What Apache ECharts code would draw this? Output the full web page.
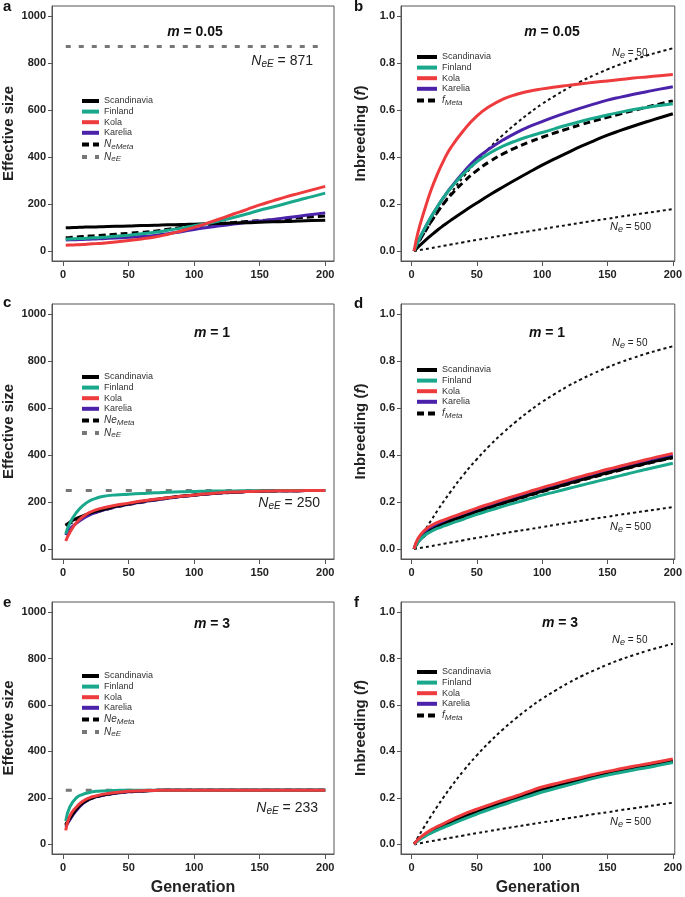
<!DOCTYPE html>
<html><head><meta charset="utf-8">
<script src="https://cdn.jsdelivr.net/npm/echarts@6/dist/echarts.min.js"></script>
<style>html,body{margin:0;padding:0;background:#fff}#c{width:685px;height:897px}</style>
</head><body><div id="c"></div>
<script>
// ---------- DATA ----------
const GEN = [2,5,10,15,20,25,30,40,50,60,70,80,90,100,110,120,130,140,150,160,170,180,190,200];
const X_TICKS = [0,50,100,150,200];
const Y_TICKS_SIZE = [0,200,400,600,800,1000];
const Y_TICKS_F = [0,0.2,0.4,0.6,0.8,1.0];
const PANEL_LETTERS = ['a','b','c','d','e','f'];
const M_VALUES = ['0.05','0.05','1','1','3','3'];
const NEE_VALUES = [871, 250, 233];   // panels a, c, e

// panel a (m = 0.05, effective size)
const SCAN_A = [100,100,101,102,103,103,104,106,107,109,110,112,113,115,117,118,120,121,123,125,126,128,130,132];
const FIN_A  = [51,52,53,54,56,57,59,63,68,74,80,89,98,108,118,130,143,158,174,188,203,218,232,247];
const KOLA_A = [25,26,27,28,30,32,34,39,45,52,60,72,86,101,119,138,158,177,197,214,231,246,261,276];
const KAR_A  = [47,48,49,50,51,52,53,56,59,62,67,74,83,92,101,108,115,122,128,135,142,149,156,163];
const META_A = [57,58,60,62,64,66,68,72,76,80,85,93,101,108,113,118,122,126,130,134,138,142,146,150];
// panel b (m = 0.05, inbreeding)
const SCAN_B = [0,0.017,0.043,0.067,0.09,0.111,0.131,0.169,0.205,0.24,0.273,0.305,0.336,0.366,0.394,0.421,0.447,0.471,0.494,0.514,0.533,0.551,0.568,0.585];
const FIN_B  = [0,0.04,0.095,0.145,0.19,0.232,0.268,0.33,0.38,0.418,0.447,0.47,0.489,0.505,0.522,0.538,0.553,0.567,0.58,0.592,0.603,0.612,0.62,0.628];
const KOLA_B = [0,0.08,0.175,0.26,0.33,0.39,0.44,0.515,0.575,0.617,0.647,0.667,0.681,0.691,0.699,0.706,0.713,0.719,0.725,0.731,0.737,0.742,0.747,0.752];
const KAR_B  = [0,0.04,0.095,0.145,0.19,0.232,0.27,0.337,0.395,0.437,0.473,0.504,0.53,0.552,0.573,0.592,0.61,0.627,0.643,0.656,0.668,0.679,0.69,0.70];
const META_B = [0,0.035,0.08,0.125,0.167,0.205,0.238,0.295,0.343,0.382,0.414,0.441,0.464,0.485,0.504,0.522,0.539,0.555,0.57,0.585,0.599,0.613,0.627,0.64];
// reference curves Ne = 50 and Ne = 500 (panels b, d, f)
const NE50  = [0,0.03,0.077,0.122,0.165,0.206,0.245,0.318,0.383,0.442,0.495,0.543,0.587,0.627,0.662,0.695,0.724,0.75,0.774,0.796,0.815,0.833,0.849,0.864];
const NE500 = [0,0.003,0.008,0.013,0.018,0.023,0.028,0.038,0.048,0.057,0.067,0.076,0.085,0.094,0.103,0.112,0.121,0.13,0.138,0.147,0.155,0.163,0.171,0.179];
// panel c (m = 1, effective size)
const SCAN_C = [100,115,130,142,152,161,168,182,193,203,211,219,225,231,236,240,243,245,247,248,249,249,250,250];
const FIN_C  = [65,110,155,185,205,216,224,231,234,237,240,242,244,246,247,248,248,249,249,249,250,250,250,250];
const KOLA_C = [35,70,112,138,156,167,175,187,196,205,212,219,225,231,236,240,243,245,247,248,249,249,250,250];
const KAR_C  = [60,85,110,130,145,156,165,180,191,201,209,217,224,230,235,239,242,245,247,248,249,249,250,250];
const META_C = [104,110,121,135,148,157,165,179,190,200,209,217,224,230,235,239,242,245,247,248,249,249,250,250];
// panel d (m = 1, inbreeding)
const SCAN_D = [0,0.03,0.06,0.08,0.095,0.108,0.12,0.14,0.16,0.178,0.196,0.213,0.23,0.247,0.263,0.279,0.295,0.31,0.325,0.339,0.353,0.366,0.379,0.391];
const FIN_D  = [0,0.03,0.058,0.075,0.088,0.099,0.109,0.128,0.148,0.165,0.182,0.198,0.214,0.23,0.244,0.258,0.272,0.286,0.3,0.313,0.327,0.34,0.353,0.366];
const KOLA_D = [0,0.045,0.08,0.1,0.114,0.125,0.135,0.155,0.175,0.193,0.211,0.228,0.245,0.262,0.278,0.294,0.31,0.325,0.34,0.354,0.368,0.382,0.395,0.408];
const KAR_D  = [0,0.04,0.072,0.092,0.106,0.118,0.128,0.148,0.168,0.186,0.204,0.221,0.238,0.255,0.271,0.287,0.303,0.318,0.333,0.347,0.361,0.374,0.387,0.4];
const META_D = [0,0.03,0.058,0.078,0.093,0.106,0.118,0.138,0.158,0.176,0.194,0.211,0.228,0.245,0.261,0.277,0.293,0.308,0.323,0.337,0.351,0.364,0.377,0.389];
// panel e (m = 3, effective size)
const SCAN_E = [80,110,150,178,195,205,212,221,227,230,232,233,233,233,233,233,233,233,233,233,233,233,233,233];
const FIN_E  = [100,160,200,215,223,228,230,232,233,233,233,233,233,233,233,233,233,233,233,233,233,233,233,233];
const KOLA_E = [60,120,160,185,200,208,215,223,228,231,232,233,233,233,233,233,233,233,233,233,233,233,233,233];
const KAR_E  = [75,105,145,175,193,204,211,220,226,230,232,233,233,233,233,233,233,233,233,233,233,233,233,233];
const META_E = [85,112,150,177,194,204,211,220,226,230,232,233,233,233,233,233,233,233,233,233,233,233,233,233];
// panel f (m = 3, inbreeding)
const SCAN_F = [0,0.018,0.038,0.055,0.069,0.082,0.095,0.119,0.141,0.161,0.18,0.199,0.218,0.236,0.251,0.265,0.279,0.294,0.306,0.317,0.328,0.338,0.349,0.36];
const FIN_F  = [0,0.015,0.033,0.048,0.061,0.073,0.085,0.108,0.13,0.151,0.17,0.189,0.207,0.225,0.24,0.255,0.27,0.285,0.298,0.309,0.32,0.33,0.341,0.352];
const KOLA_F = [0,0.02,0.043,0.062,0.077,0.09,0.104,0.13,0.151,0.171,0.19,0.208,0.228,0.247,0.261,0.275,0.288,0.302,0.314,0.325,0.336,0.346,0.357,0.368];
const KAR_F  = [0,0.017,0.036,0.053,0.067,0.08,0.093,0.117,0.139,0.159,0.178,0.197,0.216,0.234,0.249,0.263,0.277,0.292,0.304,0.315,0.326,0.336,0.347,0.358];
const META_F = [0,0.017,0.037,0.054,0.068,0.081,0.094,0.118,0.14,0.16,0.179,0.198,0.217,0.235,0.25,0.264,0.278,0.293,0.305,0.316,0.327,0.337,0.348,0.359];

const PANELS = [
  {scan:SCAN_A, fin:FIN_A, kola:KOLA_A, kar:KAR_A, meta:META_A, metaName:'N_eMeta'},
  {scan:SCAN_B, fin:FIN_B, kola:KOLA_B, kar:KAR_B, meta:META_B, metaName:'f_Meta'},
  {scan:SCAN_C, fin:FIN_C, kola:KOLA_C, kar:KAR_C, meta:META_C, metaName:'Ne_Meta'},
  {scan:SCAN_D, fin:FIN_D, kola:KOLA_D, kar:KAR_D, meta:META_D, metaName:'f_Meta'},
  {scan:SCAN_E, fin:FIN_E, kola:KOLA_E, kar:KAR_E, meta:META_E, metaName:'Ne_Meta'},
  {scan:SCAN_F, fin:FIN_F, kola:KOLA_F, kar:KAR_F, meta:META_F, metaName:'f_Meta'}
];

// ---------- STYLE ----------
const FONT = 'Liberation Sans, Arial, Helvetica, sans-serif';
const C_SCAN = '#000000', C_FIN = '#1aa88c', C_KOLA = '#ee3b3d', C_KAR = '#4a23aa', C_NEE = '#777777';
const AX = '#555555';
const GRID_POS = [
  {left:51, top:6}, {left:401, top:6},
  {left:51, top:304}, {left:401, top:304},
  {left:51, top:602}, {left:401, top:602}
];
const LEGEND_POS = [
  {left:80, top:96}, {left:415, top:52},
  {left:80, top:372}, {left:415, top:365},
  {left:80, top:671}, {left:415, top:667}
];
const TITLE_POS = [[195,32],[552,32],[212,333],[547,333],[212,624],[560,623]];
const LETTER_POS = [[3,7],[354,7],[3,303],[354,304],[3,603],[354,603]];
const NEE_POS = [[313,61],[320,503],[318,808]];
const NE50_POS = [[612,53],[612,343],[612,640]];
const NE500_POS = [[610,227],[610,527],[610,822]];

const pairs = ys => GEN.map((g, k) => [g, ys[k]]);

const grids = [], xAxes = [], yAxes = [], series = [], legends = [], graphics = [];

const subRich = {
  it: {fontStyle:'italic', fontSize:10, fontFamily:FONT, color:'#333', lineHeight:10},
  sub: {fontStyle:'italic', fontSize:8, fontFamily:FONT, color:'#333', padding:[4,0,0,0], lineHeight:9}
};
const legendFmt = name => ({
  'N_eMeta':'{it|N}{sub|eMeta}',
  'Ne_Meta':'{it|Ne}{sub|Meta}',
  'f_Meta':'{it|f}{sub|Meta}',
  'N_eE':'{it|N}{sub|eE}'
})[name] || name;

PANELS.forEach((P, i) => {
  const isLeft = i % 2 === 0;
  const isBottom = i >= 4;
  grids.push({left:GRID_POS[i].left, top:GRID_POS[i].top, width: isLeft ? 283 : 274, height:255,
    show:true, borderColor:AX, borderWidth:1, backgroundColor:'transparent'});
  xAxes.push({
    gridIndex:i, type:'value', min: isLeft ? -8.5 : -8, max: isLeft ? 206.7 : 201.5,
    axisLine:{show:true, onZero:false, lineStyle:{color:AX, width:1}},
    axisTick:{show:true, length:5, customValues:X_TICKS, lineStyle:{color:AX}},
    axisLabel:{customValues:X_TICKS, fontWeight:'bold', fontSize:11, color:'#222', margin:8, fontFamily:FONT},
    splitLine:{show:false},
    name: isBottom ? 'Generation' : '', nameLocation:'middle', nameGap:26,
    nameTextStyle:{fontWeight:'bold', fontSize:16, color:'#222', fontFamily:FONT}
  });
  yAxes.push({
    gridIndex:i, type:'value',
    min: isLeft ? -42 : -0.042, max: isLeft ? 1044 : 1.044,
    axisLine:{show:true, onZero:false, lineStyle:{color:AX, width:1}},
    axisTick:{show:true, length:4, customValues: isLeft ? Y_TICKS_SIZE : Y_TICKS_F, lineStyle:{color:AX}},
    axisLabel:{customValues: isLeft ? Y_TICKS_SIZE : Y_TICKS_F, fontWeight:'bold', fontSize:11, color:'#222', margin:6, fontFamily:FONT,
      formatter: v => isLeft ? String(v) : v.toFixed(1)},
    splitLine:{show:false},
    name: isLeft ? 'Effective size' : '{b|Inbreeding (}{i|f}{b|)}',
    nameLocation:'middle', nameGap: isLeft ? 36 : 33,
    nameTextStyle:{fontWeight:'bold', fontSize:15, color:'#222', fontFamily:FONT,
      rich:{b:{fontWeight:'bold', fontSize:15, color:'#222', fontFamily:FONT}, i:{fontWeight:'bold', fontStyle:'italic', fontSize:15, color:'#222', fontFamily:FONT}}}
  });

  const mk = (name, ys, color, width, type, smooth) => ({
    type:'line', name, xAxisIndex:i, yAxisIndex:i, data:pairs(ys), symbol:'none',
    smooth: smooth === false ? false : 0.5,
    lineStyle:{color, width, type, cap:'butt'}, itemStyle:{color},
    silent:true, emphasis:{disabled:true}, animation:false
  });

  if (isLeft) {
    const nee = NEE_VALUES[i/2];
    series.push(mk('N_eE', GEN.map(() => nee), C_NEE, 3, i === 0 ? [5,8] : [6,14], false));
  } else {
    series.push(mk('Ne50', NE50, '#111', 2, [3,3]));
    series.push(mk('Ne500', NE500, '#111', 2, [3,3]));
  }
  series.push(mk(P.metaName, P.meta, '#000', 3, [7,4]));
  series.push(mk('Karelia', P.kar, C_KAR, 3, 'solid'));
  series.push(mk('Scandinavia', P.scan, C_SCAN, 3, 'solid'));
  series.push(mk('Finland', P.fin, C_FIN, 3, 'solid'));
  series.push(mk('Kola', P.kola, C_KOLA, 3, 'solid'));

  const ldata = ['Scandinavia','Finland','Kola','Karelia', P.metaName];
  if (isLeft) ldata.push('N_eE');
  legends.push({
    left:LEGEND_POS[i].left, top:LEGEND_POS[i].top, orient:'vertical', selectedMode:false,
    itemWidth: isLeft ? 17 : 20, itemHeight:8, itemGap:0.6, padding:0,
    itemStyle:{opacity:0, borderWidth:0},
    lineStyle:{width:4},
    data:ldata, formatter:legendFmt,
    textStyle:{fontSize:9, color:'#333', fontFamily:FONT, lineHeight:10, rich:subRich}
  });

  graphics.push({type:'text', x:LETTER_POS[i][0], y:LETTER_POS[i][1], silent:true,
    style:{text:PANEL_LETTERS[i], fontSize:15, fontWeight:'bold', fill:'#111', fontFamily:FONT, verticalAlign:'middle', align:'left'}});
  graphics.push({type:'text', x:TITLE_POS[i][0], y:TITLE_POS[i][1], silent:true,
    style:{text:'{i|m}{b| = ' + M_VALUES[i] + '}', align:'center', verticalAlign:'middle', fill:'#111',
      rich:{i:{fontStyle:'italic', fontWeight:'bold', fontSize:14, fontFamily:FONT, fill:'#111'},
            b:{fontWeight:'bold', fontSize:14, fontFamily:FONT, fill:'#111'}}}});
  if (isLeft) {
    const k = i/2;
    graphics.push({type:'text', x:NEE_POS[k][0], y:NEE_POS[k][1], silent:true,
      style:{text:'{i|N}{s|eE}{n| = ' + NEE_VALUES[k] + '}', align:'right', verticalAlign:'middle', fill:'#222',
        rich:{i:{fontStyle:'italic', fontSize:14, fontFamily:FONT, fill:'#222'},
              s:{fontStyle:'italic', fontSize:10, fontFamily:FONT, fill:'#222', padding:[7,0,0,0]},
              n:{fontSize:14, fontFamily:FONT, fill:'#222'}}}});
  } else {
    const k = (i-1)/2;
    const lab = (txt, pos) => graphics.push({type:'text', x:pos[0], y:pos[1], silent:true,
      style:{text:'{i|N}{s|e}{n| = ' + txt + '}', align:'left', verticalAlign:'middle', fill:'#222',
        rich:{i:{fontStyle:'italic', fontSize:11, fontFamily:FONT, fill:'#222'},
              s:{fontStyle:'italic', fontSize:9, fontFamily:FONT, fill:'#222', padding:[5,0,0,0]},
              n:{fontSize:10, fontFamily:FONT, fill:'#222'}}}});
    lab('50', NE50_POS[k]);
    lab('500', NE500_POS[k]);
  }
});

const chart = echarts.init(document.getElementById('c'), null, {renderer:'canvas', width:685, height:897});
chart.setOption({
  animation:false,
  backgroundColor:'#ffffff',
  grid:grids, xAxis:xAxes, yAxis:yAxes, series:series, legend:legends, graphic:graphics
});
</script></body></html>
